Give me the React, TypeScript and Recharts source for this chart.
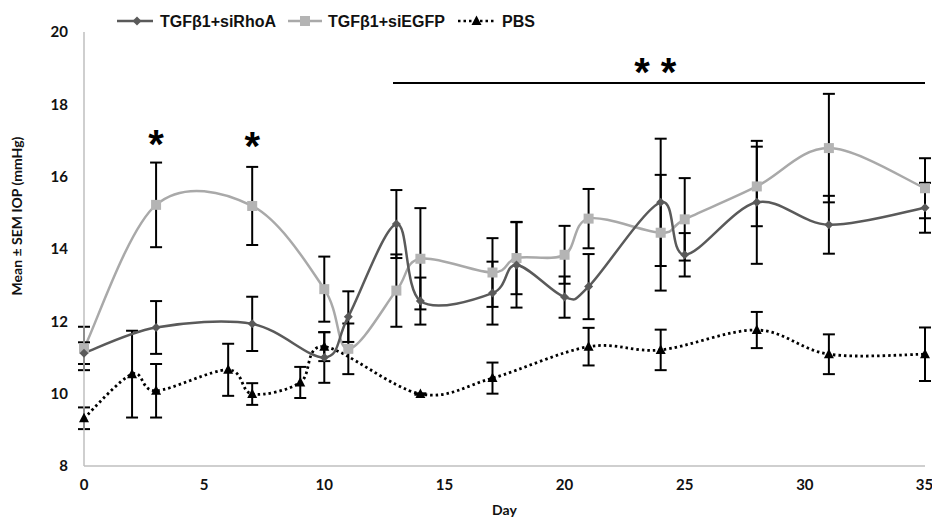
import React from 'react';
import { LineChart, Line, XAxis, YAxis, ErrorBar, ReferenceLine, ReferenceDot } from 'recharts';

const rhoaDays = [0, 3, 7, 10, 11, 13, 14, 17, 18, 20, 21, 24, 25, 28, 31, 35];
const rhoaMean = [11.12, 11.83, 11.93, 11.0, 12.13, 14.69, 12.56, 12.78, 13.56, 12.67, 12.96, 15.29, 13.84, 15.29, 14.67, 15.14];
const rhoaSem = [0.3, 0.73, 0.75, 0.7, 0.7, 0.94, 0.65, 0.87, 1.18, 0.57, 0.9, 1.76, 0.6, 1.7, 0.8, 0.69];

const egfpDays = [0, 3, 7, 10, 11, 13, 14, 17, 18, 20, 21, 24, 25, 28, 31, 35];
const egfpMean = [11.25, 15.22, 15.19, 12.89, 11.24, 12.85, 13.73, 13.35, 13.75, 13.84, 14.84, 14.45, 14.82, 15.73, 16.79, 15.68];
const egfpSem = [0.6, 1.17, 1.08, 0.9, 0.7, 1.0, 1.4, 0.95, 1.0, 0.8, 0.82, 1.6, 1.14, 1.1, 1.5, 0.83];

const pbsDays = [0, 2, 3, 6, 7, 9, 10, 14, 17, 21, 24, 28, 31, 35];
const pbsMean = [9.32, 10.54, 10.08, 10.66, 9.99, 10.31, 11.3, 9.99, 10.43, 11.3, 11.21, 11.76, 11.09, 11.09];
const pbsSem = [0.3, 1.2, 0.74, 0.72, 0.3, 0.43, 0.4, 0.02, 0.43, 0.52, 0.56, 0.5, 0.55, 0.74];

const xTicks = [0, 5, 10, 15, 20, 25, 30, 35];
const yTicks = [8, 10, 12, 14, 16, 18, 20];

const rhoaData = rhoaDays.map((d, i) => ({ day: d, value: rhoaMean[i], err: rhoaSem[i] }));
const egfpData = egfpDays.map((d, i) => ({ day: d, value: egfpMean[i], err: egfpSem[i] }));
const pbsData = pbsDays.map((d, i) => ({ day: d, value: pbsMean[i], err: pbsSem[i] }));

const RHOA = '#5a5a5a';
const EGFP = '#a9a9a9';
const EGFP_MARK = '#b4b4b4';
const TICK_FONT = 'Lato, sans-serif';
const LEGEND_FONT = '"Liberation Sans", Arial, sans-serif';

// Excel-like smoothed line (Catmull-Rom as bezier)
const excelSmooth: any = (context: any) => {
  let pts: number[][] = [];
  return {
    areaStart() {},
    areaEnd() {},
    lineStart() {
      pts = [];
    },
    lineEnd() {
      const n = pts.length;
      if (!n) return;
      context.moveTo(pts[0][0], pts[0][1]);
      for (let i = 0; i < n - 1; i++) {
        const p0 = pts[i - 1] || pts[i];
        const p1 = pts[i];
        const p2 = pts[i + 1];
        const p3 = pts[i + 2] || pts[i + 1];
        context.bezierCurveTo(
          p1[0] + (p2[0] - p0[0]) / 6,
          p1[1] + (p2[1] - p0[1]) / 6,
          p2[0] - (p3[0] - p1[0]) / 6,
          p2[1] - (p3[1] - p1[1]) / 6,
          p2[0],
          p2[1]
        );
      }
    },
    point(x: number, y: number) {
      pts.push([+x, +y]);
    },
  };
};

const Diamond = (props: any) => {
  const { cx, cy, index } = props;
  const s = 4.5;
  return <path key={'d' + index} d={`M${cx},${cy - s}L${cx + s},${cy}L${cx},${cy + s}L${cx - s},${cy}Z`} fill={RHOA} />;
};

const Square = (props: any) => {
  const { cx, cy, index } = props;
  return <rect key={'s' + index} x={cx - 5} y={cy - 5} width={10} height={10} fill={EGFP_MARK} />;
};

const Triangle = (props: any) => {
  const { cx, cy, index } = props;
  return <path key={'t' + index} d={`M${cx},${cy - 5.5}L${cx + 5},${cy + 4}L${cx - 5},${cy + 4}Z`} fill="#000" />;
};

const Star = (props: any) => {
  const { cx, cy } = props;
  return (
    <text x={cx} y={cy + 16} textAnchor="middle" fontFamily={LEGEND_FONT} fontWeight="bold" fontSize={40} fill="#000">
      *
    </text>
  );
};

const YLabel = () => (
  <text x={22} y={216} transform="rotate(-90 22 216)" textAnchor="middle" fontFamily={TICK_FONT} fontWeight="bold" fontSize={14} fill="#111">
    Mean ± SEM IOP (mmHg)
  </text>
);

const Legend = () => (
  <div style={{ position: 'absolute', left: 0, top: 0, width: 932, height: 40, pointerEvents: 'none' }}>
    <svg width={932} height={40} style={{ position: 'absolute', left: 0, top: 0 }}>
      <line x1={117} y1={21} x2={153} y2={21} stroke={RHOA} strokeWidth={2.5} />
      <path d="M137,16.5L141.5,21L137,25.5L132.5,21Z" fill={RHOA} />
      <line x1={288} y1={21} x2={322} y2={21} stroke={EGFP} strokeWidth={2.5} />
      <rect x={300} y={16} width={10} height={10} fill={EGFP_MARK} />
      <line x1={458} y1={21} x2={495} y2={21} stroke="#000" strokeWidth={2.5} strokeDasharray="2.5 3" />
      <path d="M476.5,15.5L481.5,25L471.5,25Z" fill="#000" />
      <g fontFamily={LEGEND_FONT} fontWeight="bold" fontSize={16} fill="#111">
        <text x={160} y={27}>TGFβ1+siRhoA</text>
        <text x={328} y={27}>TGFβ1+siEGFP</text>
        <text x={502} y={27}>PBS</text>
      </g>
    </svg>
  </div>
);

export default function App() {
  return (
    <div style={{ position: 'absolute', left: 0, top: 0, width: 932, height: 518, background: '#fff' }}>
      <LineChart width={932} height={518} margin={{ top: 32, right: 7, bottom: 0, left: 24 }}>
        <XAxis
          dataKey="day"
          type="number"
          domain={[0, 35]}
          ticks={xTicks}
          allowDuplicatedCategory={false}
          axisLine={{ stroke: '#bfbfbf', strokeWidth: 1.5 }}
          tickLine={false}
          tickSize={0}
          tickMargin={13}
          height={52}
          tick={{ fontFamily: TICK_FONT, fontWeight: 'bold', fontSize: 15, fill: '#111' }}
          label={{ value: 'Day', position: 'insideBottom', offset: 3, style: { fontFamily: TICK_FONT, fontWeight: 'bold', fontSize: 14, fill: '#111' } }}
        />
        <YAxis
          type="number"
          domain={[8, 20]}
          ticks={yTicks}
          width={60}
          axisLine={{ stroke: '#bfbfbf', strokeWidth: 1.5 }}
          tickLine={false}
          tickSize={0}
          tickMargin={16}
          tick={{ fontFamily: TICK_FONT, fontWeight: 'bold', fontSize: 15, fill: '#111' }}
        />
        <Line
          data={pbsData}
          dataKey="value"
          type={excelSmooth}
          stroke="#000"
          strokeWidth={2.8}
          strokeDasharray="2.5 3"
          dot={Triangle}
          activeDot={false}
          isAnimationActive={false}
        >
          <ErrorBar dataKey="err" width={6} strokeWidth={2} stroke="#000" direction="y" />
        </Line>
        <Line
          data={egfpData}
          dataKey="value"
          type={excelSmooth}
          stroke={EGFP}
          strokeWidth={2.5}
          dot={Square}
          activeDot={false}
          isAnimationActive={false}
        >
          <ErrorBar dataKey="err" width={6} strokeWidth={2} stroke="#000" direction="y" />
        </Line>
        <Line
          data={rhoaData}
          dataKey="value"
          type={excelSmooth}
          stroke={RHOA}
          strokeWidth={2.5}
          dot={Diamond}
          activeDot={false}
          isAnimationActive={false}
        >
          <ErrorBar dataKey="err" width={6} strokeWidth={2} stroke="#000" direction="y" />
        </Line>
        <ReferenceLine
          segment={[{ x: 12.86, y: 18.59 }, { x: 35, y: 18.59 }]}
          stroke="#000"
          strokeWidth={2}
          ifOverflow="extendDomain"
        />
        <ReferenceDot x={3} y={16.95} r={0} shape={Star} />
        <ReferenceDot x={7} y={16.9} r={0} shape={Star} />
        <ReferenceDot x={23.22} y={18.95} r={0} shape={Star} />
        <ReferenceDot x={24.33} y={18.95} r={0} shape={Star} />
        <YLabel />
      </LineChart>
      <Legend />
    </div>
  );
}
